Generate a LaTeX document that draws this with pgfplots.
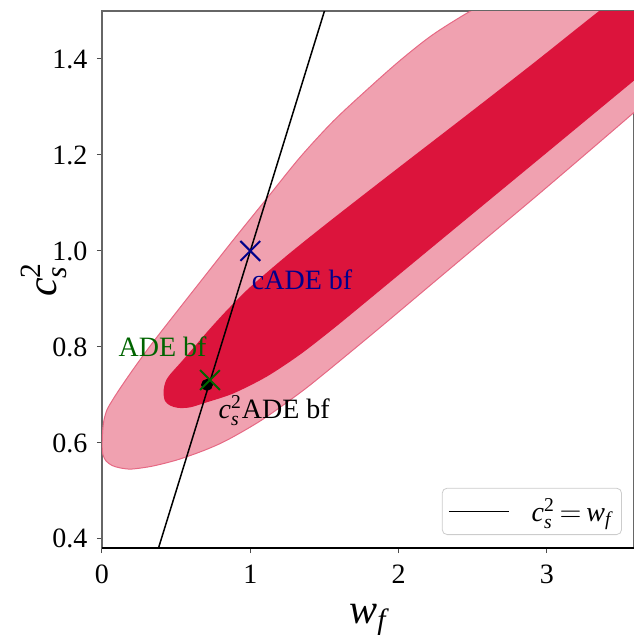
\documentclass[border=0pt]{standalone}
\usepackage{fontspec}
\setmainfont{Liberation Serif}
\usepackage{pgfplots}
\pgfplotsset{compat=1.18}
\definecolor{lightc}{RGB}{240,161,176}
\definecolor{edgec}{RGB}{230,105,132}
\definecolor{crim}{RGB}{220,20,60}
\definecolor{navyc}{RGB}{0,0,139}
\definecolor{greenc}{RGB}{0,100,0}
\begin{document}
\begin{tikzpicture}
\begin{axis}[
  name=ax,
  scale only axis,
  width=266pt, height=268.5pt,
  xmin=0, xmax=3.587, ymin=0.381, ymax=1.5,
  xtick={0,1,2,3},
  ytick={0.4,0.6,0.8,1.0,1.2,1.4},
  yticklabel style={/pgf/number format/fixed, /pgf/number format/fixed zerofill, /pgf/number format/precision=1},
  /pgf/number format/assume math mode=true,
  tick label style={font=\fontsize{14}{16}\selectfont, inner sep=0pt},
  yticklabel style={xshift=-4.6pt},
  xticklabel style={yshift=-5.6pt},
  tick align=outside, major tick length=2.5pt,
  tick pos=left,
  every tick/.style={black!70, line width=0.5pt},
  axis line style={black!60, line width=0.6pt},
  xlabel={$\mathit{w}_{\mathit{f}}$},
  ylabel={$\mathit{c}_{\mathit{s}}^{\mathrm{2}}$},
  label style={font=\fontsize{21}{24}\selectfont},
  xlabel style={at={(axis description cs:0.5,0)}, anchor=base, yshift=-37.5pt, inner sep=0pt},
  ylabel style={at={([xshift=-23pt]axis description cs:0,0.5)}, anchor=base, inner sep=0pt},
  legend style={at={(1,0)}, anchor=south east, xshift=-6pt, yshift=6.5pt,
    draw=black!20, rounded corners=2.5pt, fill=white,
    font=\fontsize{14}{16}\selectfont, inner xsep=3pt, inner ysep=3pt},
  legend image code/.code={\draw[#1, line width=0.75pt] (0pt,0pt) -- (30pt,0pt); \path (39pt,0pt);},
]
% outer (2 sigma) contour
\addplot[fill=lightc, draw=edgec, line width=0.5pt, smooth, tension=0.5, forget plot] coordinates {
 (4.0,1.40) (3.587,1.2886) (3.0,1.133) (2.6,1.029) (2.2,0.925) (1.841,0.8317)
 (1.504,0.7458) (1.335,0.7044) (1.079,0.6481) (0.85,0.6069) (0.695,0.5852)
 (0.512,0.5651) (0.357,0.5527) (0.27,0.548) (0.189,0.5454) (0.121,0.548)
 (0.0674,0.553) (0.027,0.5625) (0.0067,0.575) (0.0013,0.5917) (0.002,0.6063)
 (0.005,0.627) (0.0135,0.648) (0.0337,0.669) (0.0674,0.6875) (0.121,0.7132)
 (0.209,0.7528) (0.324,0.8017) (0.438,0.8473) (0.661,0.935) (0.883,1.022)
 (1.113,1.110) (1.335,1.195) (1.558,1.270) (1.787,1.336) (2.010,1.397)
 (2.232,1.451) (2.502,1.503) (2.82,1.555) (3.2,1.62) (4.0,1.75) (4.0,1.40)
};
% inner (1 sigma) contour
\addplot[fill=crim, draw=none, smooth, tension=0.5, forget plot] coordinates {
 (4.0,1.46) (3.587,1.355) (3.0,1.205) (2.6,1.103) (2.2,1.001) (1.785,0.895)
 (1.56,0.838) (1.335,0.784) (1.11,0.738) (0.885,0.703) (0.70,0.684) (0.593,0.674)
 (0.5125,0.673) (0.4585,0.678) (0.4248,0.6875) (0.4147,0.7042) (0.421,0.72)
 (0.435,0.732) (0.46,0.743) (0.50,0.757) (0.548,0.7735) (0.64,0.8065) (0.728,0.838)
 (0.85,0.879) (1.0,0.925) (1.245,0.990) (1.47,1.046) (1.672,1.095) (2.01,1.176)
 (2.459,1.283) (2.908,1.391) (3.29,1.485) (3.6,1.56) (4.0,1.66) (4.0,1.46)
};
% c_s^2 = w_f line
\addplot[black, line width=0.75pt] coordinates {(0.3,0.3) (1.6,1.6)};
\addlegendentry{$\mathit{c}_{\mathit{s}}^{\mathrm{2}}\,{=}\,\mathit{w}_{\mathit{f}}$}
% best fits
\addplot[only marks, mark=*, mark size=2.75pt, black, forget plot] coordinates {(0.708,0.721)};
\addplot[only marks, mark=x, mark size=7pt, greenc, line width=1pt, forget plot] coordinates {(0.728,0.731)};
\addplot[only marks, mark=x, mark size=7pt, navyc, line width=1pt, forget plot] coordinates {(1.0,1.0)};
\node[anchor=base west, inner sep=0pt, text=navyc, font=\fontsize{14}{16}\selectfont] at (axis cs:1.008,0.920) {cADE bf};
\node[anchor=base west, inner sep=0pt, text=greenc, font=\fontsize{14}{16}\selectfont] at (axis cs:0.110,0.7806) {ADE bf};
\node[anchor=base west, inner sep=0pt, text=black, font=\fontsize{14}{16}\selectfont] at (axis cs:0.784,0.6506) {$\mathit{c}_{\mathit{s}}^{\mathrm{2}}$ADE bf};
\end{axis}
\draw[black, line width=0.6pt] (ax.south west) -- (ax.south east);
\pgfresetboundingbox
\path ([xshift=-51pt,yshift=-43.5pt]ax.south west) rectangle ([yshift=5.5pt]ax.north east);
\end{tikzpicture}
\end{document}
